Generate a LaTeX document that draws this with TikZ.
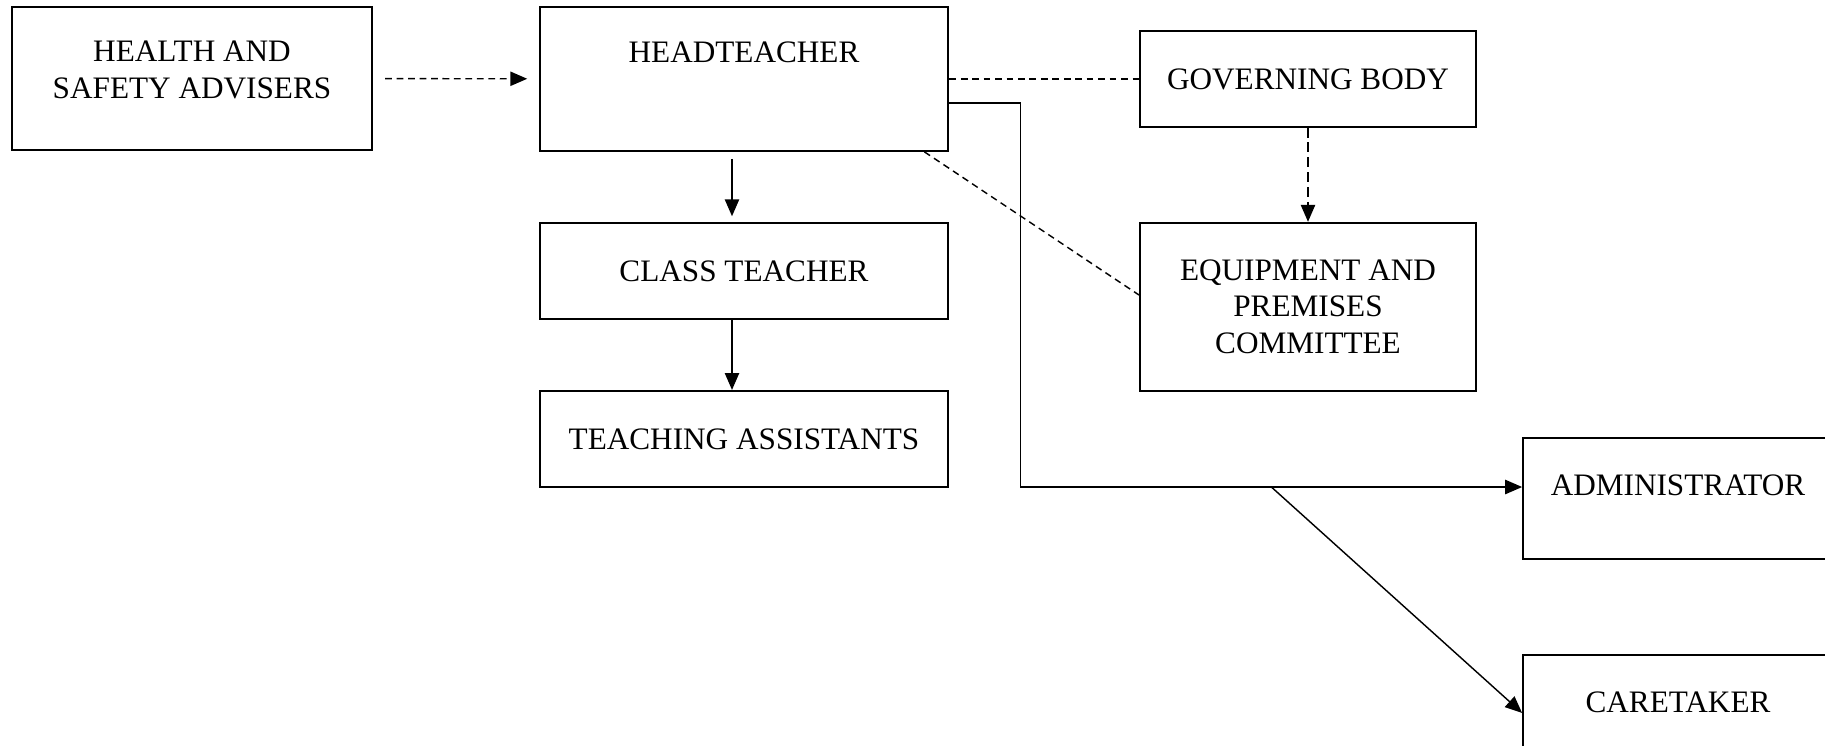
\documentclass[tikz,border=0pt]{standalone}
\usepackage{fontspec}
\setmainfont{Liberation Serif}
\usetikzlibrary{positioning,calc,arrows.meta}
\newcommand{\obox}[5]{\node [box, minimum width=#3, minimum height=#4] (#1) at (#2) {#5}}
\newcommand{\lift}[2]{\raisebox{#1}[\height][\depth]{#2}}

\begin{document}
\begin{tikzpicture}[x=0.0135cm, y=-0.0135cm,
  box/.style={draw, line width=0.7pt, align=center, inner sep=0pt, font=\fontsize{12}{14}\selectfont},
  link/.style={line width=0.55pt},
  tip/.style={-{Triangle[length=6.5pt,width=5.5pt]}},
  shortdash/.style={dash pattern=on 2.6pt off 1.8pt},
  longdash/.style={dash pattern=on 3.8pt off 1.9pt}]
\clip (0,0) rectangle (1825,746);

\obox{HSA}{192,78.5}{4.87cm}{1.93cm}{\lift{3.3pt}{HEALTH AND}\\\lift{3.3pt}{SAFETY ADVISERS}};
\obox{HEAD}{744,79}{5.52cm}{1.944cm}{\lift{10.4pt}{HEADTEACHER}};
\obox{CLASS}{744,271}{5.52cm}{1.30cm}{CLASS TEACHER};
\obox{TA}{744,439}{5.52cm}{1.30cm}{TEACHING ASSISTANTS};
\obox{GOV}{1308,79}{4.54cm}{1.29cm}{GOVERNING BODY};
\obox{EPC}{1308,306.7}{4.54cm}{2.268cm}{EQUIPMENT AND\\PREMISES\\COMMITTEE};
\obox{ADM}{1678,498.5}{4.185cm}{1.634cm}{\lift{5.2pt}{ADMINISTRATOR}};
\obox{CARE}{1678,715.5}{4.185cm}{1.634cm}{\lift{5.2pt}{CARETAKER}};

% advice and governors
\draw[link, shortdash, tip, shorten <=0.162cm, shorten >=0.155cm] (HSA) -- (HEAD);
\draw[link, shortdash] (HEAD.east) -- (GOV.west);
\draw[link, longdash, tip] (GOV) -- (EPC);
\draw[link, shortdash] ([xshift=-0.336cm]HEAD.south east) -- ([yshift=0.158cm]EPC.west);

% teaching staff
\draw[link, tip, shorten <=0.095cm, shorten >=0.077cm] ([xshift=-0.162cm]HEAD.south) -- ([xshift=-0.162cm]CLASS.north);
\draw[link, tip] ([xshift=-0.162cm]CLASS.south) -- ([xshift=-0.162cm]TA.north);

% support staff
\draw[line width=0.9pt] ([yshift=-0.32cm]HEAD.east) -- ++(0.963cm,0) coordinate (BEND);
\draw[link, tip] (BEND) |- ([yshift=0.155cm]ADM.west) coordinate[pos=0.75] (FORK);
\draw[link, tip] (FORK) -- ([yshift=0.034cm]CARE.west);

\end{tikzpicture}
\end{document}
